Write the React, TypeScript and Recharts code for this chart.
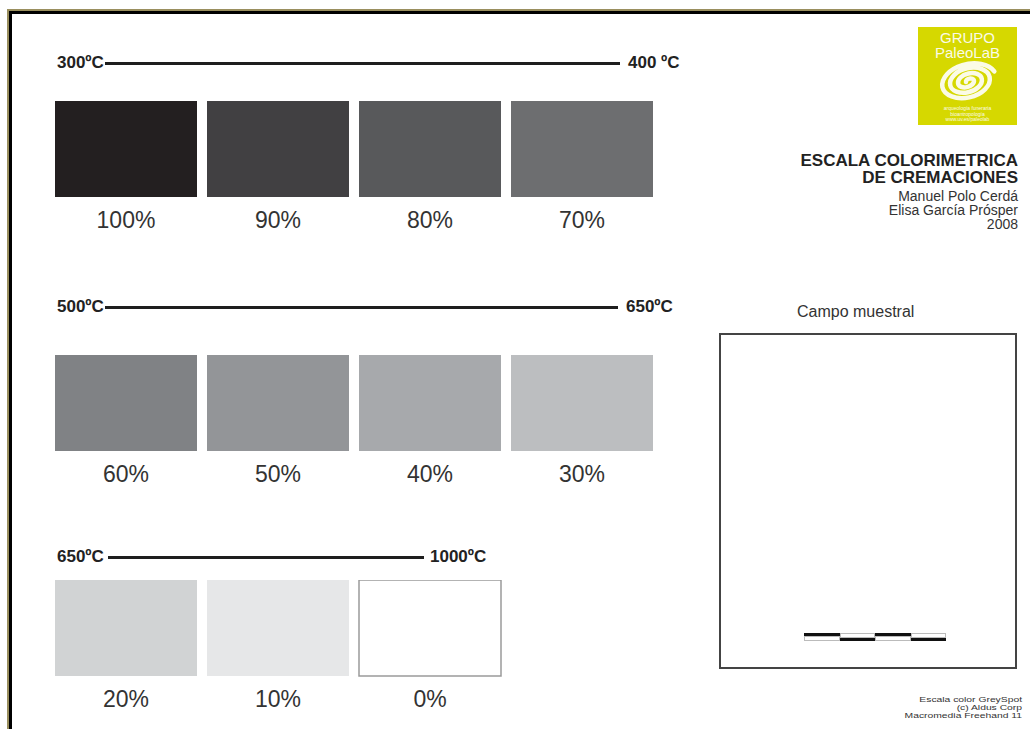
import { Bar, BarChart, Cell, XAxis, YAxis } from "recharts";

// swatch rows: tick labels and tones
const rowOneLevels = ["100%", "90%", "80%", "70%"];
const rowOneTones = ["#231f20", "#414042", "#58595b", "#6d6e70"];
const rowTwoLevels = ["60%", "50%", "40%", "30%"];
const rowTwoTones = ["#808285", "#939598", "#a7a9ac", "#bcbec0"];
const rowThreeLevels = ["20%", "10%", "0%"];
const rowThreeTones = ["#d1d3d4", "#e6e7e8", "#ffffff"];

const rangeStarts = ["300ºC", "500ºC", "650ºC"];
const rangeEnds = ["400 ºC", "650ºC", "1000ºC"];

const authors = ["Manuel Polo Cerdá", "Elisa García Prósper", "2008"];
const credits = ["Escala color GreySpot", "(c) Aldus Corp", "Macromedia Freehand 11"];

const FONT = "'Liberation Sans', Arial, Helvetica, sans-serif";
const BAND = 152;

type SwatchRowProps = { levels: string[]; tones: string[]; top: number };

function SwatchRow({ levels, tones, top }: SwatchRowProps) {
  const data = levels.map((level, i) => ({ level, tone: tones[i] }));
  return (
    <div style={{ position: "absolute", left: 50, top }}>
      <BarChart
        width={levels.length * BAND}
        height={136}
        data={data}
        margin={{ top: 0, right: 0, bottom: 0, left: 0 }}
      >
        <XAxis
          dataKey="level"
          axisLine={false}
          tickLine={false}
          tickSize={0}
          tickMargin={15}
          height={40}
          interval={0}
          tick={{ fill: "#333", fontSize: 23, fontFamily: FONT }}
        />
        <YAxis hide domain={[0, 1]} />
        <Bar dataKey={() => 1} barSize={142} isAnimationActive={false}>
          {data.map((d) => (
            <Cell
              key={d.level}
              fill={d.tone}
              stroke={d.tone === "#ffffff" ? "#9a9a9a" : d.tone}
              strokeWidth={d.tone === "#ffffff" ? 1.5 : 0}
            />
          ))}
        </Bar>
      </BarChart>
    </div>
  );
}

function RangeHeader({
  start,
  end,
  y,
  lineFrom,
  lineTo,
  endX,
}: {
  start: string;
  end: string;
  y: number;
  lineFrom: number;
  lineTo: number;
  endX: number;
}) {
  const text = {
    position: "absolute" as const,
    top: y - 10,
    lineHeight: "20px",
    fontSize: 17,
    fontWeight: 700,
    color: "#222",
    fontFamily: FONT,
    whiteSpace: "nowrap" as const,
  };
  return (
    <>
      <div style={{ ...text, left: 57 }}>{start}</div>
      <div
        style={{
          position: "absolute",
          left: lineFrom,
          top: y - 1,
          width: lineTo - lineFrom,
          height: 3,
          background: "#1e1e1e",
        }}
      />
      <div style={{ ...text, left: endX }}>{end}</div>
    </>
  );
}

function Logo() {
  return (
    <div
      style={{
        position: "absolute",
        left: 918,
        top: 27,
        width: 99,
        height: 98,
        background: "#d6d800",
        fontFamily: FONT,
        color: "#fbfbe6",
        textAlign: "center",
      }}
    >
      <div style={{ position: "absolute", top: 3, width: "100%", fontSize: 15, lineHeight: "15px" }}>
        GRUPO
        <br />
        PaleoLaB
      </div>
      <svg width={99} height={98} style={{ position: "absolute", left: 0, top: 0 }}>
        <g transform="translate(48 55) rotate(-12) scale(1.15 0.75)">
          <path
            d="M0 0 A3.5 3.5 0 0 1 7 0 A7 7 0 0 1 -7 0 A10.5 10.5 0 0 1 14 0 A14 14 0 0 1 -14 0 A17.5 17.5 0 0 1 21 0 A21 21 0 0 1 -21 0 A24 24 0 0 1 26 -6"
            fill="none"
            stroke="#fbfbe6"
            strokeWidth={4.5}
            vectorEffect="non-scaling-stroke"
            strokeLinecap="round"
          />
        </g>
      </svg>
      <div
        style={{
          position: "absolute",
          top: 79,
          width: "100%",
          fontSize: 5,
          lineHeight: "5.5px",
        }}
      >
        arqueología funeraria
        <br />
        bioantropología
        <br />
        www.uv.es/paleolab
      </div>
    </div>
  );
}

function ScaleBar() {
  const segments = [0, 1, 2, 3];
  return (
    <div style={{ position: "absolute", left: 804, top: 633, display: "flex" }}>
      {segments.map((s) => (
        <div key={s} style={{ width: 35.5, height: 8, display: "flex", flexDirection: "column" }}>
          <div
            style={{
              height: s % 2 === 0 ? 3.5 : 3,
              background: s % 2 === 0 ? "#111" : "#fff",
              border: s % 2 === 0 ? "none" : "0.5px solid #bbb",
            }}
          />
          <div
            style={{
              height: s % 2 === 0 ? 3 : 3.5,
              marginTop: 0.5,
              background: s % 2 === 0 ? "#fff" : "#111",
              border: s % 2 === 0 ? "0.5px solid #bbb" : "none",
            }}
          />
        </div>
      ))}
    </div>
  );
}

export default function App() {
  return (
    <div
      style={{
        position: "absolute",
        left: 0,
        top: 0,
        width: 1030,
        height: 729,
        background: "#fff",
        overflow: "hidden",
        fontFamily: FONT,
      }}
    >
      {/* frame */}
      <div
        style={{
          position: "absolute",
          left: 7,
          top: 9,
          width: 1040,
          height: 740,
          borderLeft: "2px solid #9a8f5e",
          borderTop: "2px solid #9a8f5e",
        }}
      />
      <div
        style={{
          position: "absolute",
          left: 9,
          top: 11,
          width: 1040,
          height: 740,
          borderLeft: "3px solid #000",
          borderTop: "3px solid #000",
        }}
      />

      <RangeHeader start={rangeStarts[0]} end={rangeEnds[0]} y={63} lineFrom={105} lineTo={620} endX={628} />
      <RangeHeader start={rangeStarts[1]} end={rangeEnds[1]} y={307} lineFrom={105} lineTo={618} endX={626} />
      <RangeHeader start={rangeStarts[2]} end={rangeEnds[2]} y={557} lineFrom={108} lineTo={424} endX={430} />

      <SwatchRow levels={rowOneLevels} tones={rowOneTones} top={101} />
      <SwatchRow levels={rowTwoLevels} tones={rowTwoTones} top={355} />
      <SwatchRow levels={rowThreeLevels} tones={rowThreeTones} top={580} />

      <Logo />

      <div
        style={{
          position: "absolute",
          right: 12,
          top: 152,
          textAlign: "right",
          fontSize: 17,
          lineHeight: "17px",
          fontWeight: 700,
          color: "#222",
        }}
      >
        ESCALA COLORIMETRICA
        <br />
        DE CREMACIONES
      </div>
      <div
        style={{
          position: "absolute",
          right: 12,
          top: 189,
          textAlign: "right",
          fontSize: 14,
          lineHeight: "14px",
          color: "#333",
        }}
      >
        {authors.map((a) => (
          <div key={a}>{a}</div>
        ))}
      </div>

      <div
        style={{
          position: "absolute",
          left: 797,
          top: 302,
          fontSize: 16,
          lineHeight: "20px",
          color: "#333",
        }}
      >
        Campo muestral
      </div>
      <div
        style={{
          position: "absolute",
          left: 719,
          top: 333,
          width: 294,
          height: 332,
          border: "2px solid #444",
        }}
      />
      <ScaleBar />

      <div
        style={{
          position: "absolute",
          right: 8,
          top: 696,
          textAlign: "right",
          fontSize: 8,
          lineHeight: "8px",
          color: "#333",
          transform: "scaleX(1.29)",
          transformOrigin: "right top",
        }}
      >
        {credits.map((c) => (
          <div key={c}>{c}</div>
        ))}
      </div>
    </div>
  );
}
